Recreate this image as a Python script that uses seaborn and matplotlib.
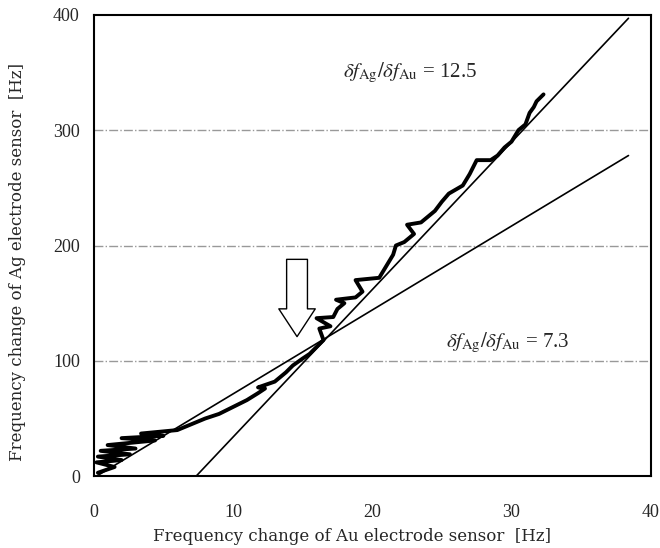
import matplotlib
matplotlib.use("Agg")
import matplotlib.pyplot as plt
import seaborn as sns
import pandas as pd

# measured trace (Au sensor vs Ag sensor)
trace_x = [0.3, 1.5, 0.2, 2.0, 0.3, 2.6, 0.5, 3.0, 1.0, 4.4, 2.0, 5.0, 3.4, 6.0,
           7.0, 8.0, 9.0, 10.0, 11.0, 11.8, 12.3, 11.8, 13.0, 13.8, 14.3, 15.0,
           15.5, 16.0, 16.5, 16.2, 17.0, 16.0, 17.2, 17.5, 18.0, 17.4, 18.8, 19.3,
           18.8, 20.5, 21.0, 21.5, 21.7, 22.3, 23.0, 22.5, 23.5, 24.5, 25.0, 25.5,
           26.5, 27.0, 27.5, 28.5, 29.0, 29.5, 30.0, 30.5, 31.0, 31.3, 31.6, 31.8,
           32.3]
trace_y = [3, 8, 12, 14, 17, 19, 22, 24, 27, 31, 33, 35, 37, 40,
           45, 50, 54, 60, 66, 72, 76, 77, 82, 90, 96, 102,
           106, 112, 118, 128, 130, 137, 138, 145, 150, 153, 155, 160,
           170, 172, 182, 192, 200, 203, 210, 218, 220, 230, 238, 245,
           252, 262, 274, 274, 278, 285, 290, 300, 305, 315, 320, 325,
           331]

# fitted lines (end points)
fit1_x = [7.35, 38.4]
fit1_y = [0, 397]
fit2_x = [0.2, 38.4]
fit2_y = [0, 278]

x_ticks = [0, 10, 20, 30, 40]
y_ticks = [0, 100, 200, 300, 400]
grid_y = [100, 200, 300]

sns.set_style("white")
plt.rcParams['font.family'] = ['DejaVu Serif', 'Liberation Serif']
plt.rcParams['mathtext.fontset'] = 'stix'

fig = plt.figure(figsize=(6.6, 5.48), dpi=100)
ax = fig.add_axes([0.142, 0.131, 0.844, 0.842])

for g in grid_y:
    ax.axhline(g, color='#999999', lw=1.0, ls='-.', zorder=0)

trace = pd.DataFrame({'x': trace_x, 'y': trace_y})
sns.lineplot(data=trace, x='x', y='y', sort=False, estimator=None,
             color='black', lw=2.8, ax=ax)
sns.lineplot(x=fit1_x, y=fit1_y, color='black', lw=1.2, ax=ax)
sns.lineplot(x=fit2_x, y=fit2_y, color='black', lw=1.2, ax=ax)

ax.annotate('', xy=(14.6, 121), xytext=(14.6, 188),
            arrowprops=dict(arrowstyle='simple,head_length=0.8,head_width=1.05,tail_width=0.6',
                            mutation_scale=25, fc='white', ec='black', lw=1.0,
                            shrinkA=0, shrinkB=0))

ax.text(17.9, 350, r'$\delta f_{\mathrm{Ag}}/\delta f_{\mathrm{Au}}$ = 12.5',
        fontsize=15, va='center', ha='left', family='Liberation Serif')
ax.text(25.3, 116, r'$\delta f_{\mathrm{Ag}}/\delta f_{\mathrm{Au}}$ = 7.3',
        fontsize=15, va='center', ha='left', family='Liberation Serif')

ax.set_xlim(0, 40)
ax.set_ylim(0, 400)
ax.set_xticks(x_ticks)
ax.set_yticks(y_ticks)
ax.tick_params(axis='x', direction='in', length=5, width=1, labelsize=13, pad=20)
ax.tick_params(axis='y', length=0, labelsize=13, pad=10)
for lab in ax.get_xticklabels() + ax.get_yticklabels():
    lab.set_family('Liberation Serif')
for s in ax.spines.values():
    s.set_linewidth(1.5)
    s.set_color('black')

ax.set_xlabel('Frequency change of Au electrode sensor  [Hz]', fontsize=12)
ax.set_ylabel('Frequency change of Ag electrode sensor  [Hz]', fontsize=12)
ax.xaxis.set_label_coords(0.463, -0.112)
ax.yaxis.set_label_coords(-0.122, 0.464)

fig.savefig('out.png', dpi=100)
